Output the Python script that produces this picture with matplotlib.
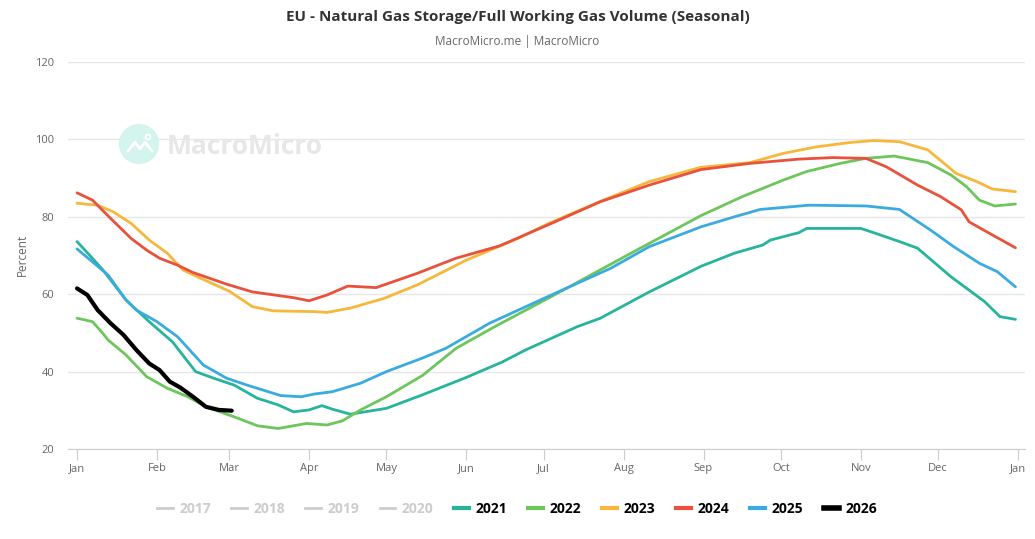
import matplotlib
matplotlib.use("Agg")
import matplotlib.pyplot as plt
from matplotlib.lines import Line2D
from matplotlib.patches import Ellipse

plt.rcParams['font.family'] = ['Open Sans', 'DejaVu Sans']

# day of year -> percent
days_2021 = [0, 5, 10, 19, 28, 37, 46, 53, 61, 70, 78, 84, 90, 95, 99, 106, 120, 134, 151, 165, 174,
             194, 203, 222, 242, 255, 266, 269, 280, 283, 304, 309, 319, 326, 339, 352, 358, 364]
vals_2021 = [73.6, 70.0, 66.3, 58.5, 52.9, 47.7, 40.0, 38.3, 36.5, 33.1, 31.4, 29.6, 30.1, 31.2, 30.3,
             29.0, 30.5, 34.0, 38.5, 42.5, 45.6, 51.6, 53.8, 60.6, 67.2, 70.6, 72.7, 74.0, 75.9, 77.0,
             77.0, 75.9, 73.6, 71.9, 64.5, 58.1, 54.2, 53.5]

days_2022 = [0, 6, 10, 12, 19, 27, 35, 43, 50, 61, 70, 78, 89, 97, 103, 110, 120, 134, 147, 162, 184,
             203, 216, 242, 258, 274, 283, 296, 306, 317, 330, 339, 345, 350, 356, 364]
vals_2022 = [53.8, 52.9, 49.9, 48.2, 44.3, 38.7, 35.7, 33.5, 30.9, 28.3, 26.0, 25.3, 26.6, 26.2, 27.3,
             30.1, 33.5, 39.0, 46.0, 51.6, 59.4, 66.3, 71.0, 80.3, 85.2, 89.5, 91.7, 93.8, 95.1, 95.7,
             94.0, 90.8, 87.8, 84.3, 82.8, 83.3]

days_2023 = [0, 8, 14, 21, 28, 35, 41, 48, 59, 68, 76, 92, 97, 106, 119, 132, 151, 171, 183, 203, 222,
             242, 261, 274, 287, 300, 309, 319, 330, 341, 349, 355, 364]
vals_2023 = [83.5, 83.0, 81.3, 78.3, 74.0, 70.6, 66.3, 64.1, 60.8, 56.8, 55.7, 55.5, 55.3, 56.4, 58.9,
             62.4, 68.8, 74.4, 78.3, 84.0, 89.1, 92.8, 94.0, 96.4, 98.1, 99.2, 99.7, 99.4, 97.3, 91.2,
             89.1, 87.2, 86.5]

days_2024 = [0, 6, 13, 21, 27, 32, 39, 45, 58, 68, 84, 90, 97, 105, 116, 132, 147, 164, 184, 203, 222,
             242, 261, 280, 293, 306, 314, 326, 335, 343, 346, 354, 364]
vals_2024 = [86.2, 84.3, 79.6, 74.4, 71.4, 69.3, 67.5, 65.6, 62.6, 60.6, 59.1, 58.3, 59.8, 62.1, 61.7,
             65.4, 69.3, 72.5, 78.3, 83.9, 88.2, 92.2, 93.8, 94.9, 95.3, 95.1, 92.9, 88.2, 85.2, 81.8,
             78.7, 75.7, 72.0]

days_2025 = [0, 12, 19, 23, 31, 39, 49, 58, 66, 79, 87, 92, 99, 110, 120, 134, 143, 160, 184, 207, 222,
             242, 255, 265, 284, 306, 319, 331, 340, 350, 357, 364]
vals_2025 = [71.7, 65.0, 58.5, 55.9, 52.9, 49.0, 41.7, 38.3, 36.5, 33.8, 33.5, 34.2, 34.8, 37.0, 40.0,
             43.5, 46.0, 52.5, 59.8, 66.7, 72.3, 77.4, 80.0, 81.9, 83.0, 82.8, 81.9, 76.6, 72.3, 68.0,
             65.8, 61.9]

days_2026 = [0, 4, 8, 13, 18, 23, 28, 32, 36, 40, 45, 50, 55, 60]
vals_2026 = [61.5, 59.8, 55.9, 52.5, 49.5, 45.6, 42.1, 40.4, 37.4, 35.9, 33.5, 30.9, 30.1, 29.9]

hidden_years = ['2017', '2018', '2019', '2020']
month_days = [0, 31, 59, 90, 120, 151, 181, 212, 243, 273, 304, 334, 365]
month_labels = ['Jan', 'Feb', 'Mar', 'Apr', 'May', 'Jun', 'Jul', 'Aug', 'Sep', 'Oct', 'Nov', 'Dec', 'Jan']
y_ticks = [20, 40, 60, 80, 100, 120]

series = [
    ('2021', days_2021, vals_2021, '#26b49c', 2.0),
    ('2022', days_2022, vals_2022, '#6cc65c', 2.0),
    ('2023', days_2023, vals_2023, '#f7b73c', 2.0),
    ('2024', days_2024, vals_2024, '#e8523c', 2.0),
    ('2025', days_2025, vals_2025, '#3aabdf', 2.0),
    ('2026', days_2026, vals_2026, '#000000', 3.0),
]

W, H = 1035, 539
fig = plt.figure(figsize=(W / 100, H / 100), dpi=100)
ax = fig.add_axes([68 / W, 1 - 449 / H, (1025 - 68) / W, (449 - 62) / H])

for name, d, v, c, lw in series:
    ax.plot(d, v, color=c, lw=lw, solid_capstyle='round', zorder=3)

ax.set_xlim(-3.5, 367.7)
ax.set_ylim(20, 120)
ax.set_xticks(month_days)
ax.set_xticklabels(month_labels)
ax.set_yticks(y_ticks)
ax.grid(axis='y', color='#e6e6e6', lw=1)
ax.set_axisbelow(True)
for s in ['top', 'right', 'left']:
    ax.spines[s].set_visible(False)
ax.spines['bottom'].set_color('#cccccc')
ax.tick_params(axis='x', colors='#cccccc', labelcolor='#666666', length=8, labelsize=8, pad=2)
ax.tick_params(axis='y', length=0, labelcolor='#666666', labelsize=8, pad=10)
fig.text(22 / W, 1 - 255 / H, 'Percent', rotation=90, ha='center', va='center',
         color='#666666', fontsize=8.5)

fig.text(0.5, 1 - 17 / H, 'EU - Natural Gas Storage/Full Working Gas Volume (Seasonal)',
         ha='center', va='center', fontsize=11, fontweight='bold', color='#333333')
fig.text(0.5, 1 - 41 / H, 'MacroMicro.me | MacroMicro', ha='center', va='center',
         fontsize=8.5, color='#666666')

# watermark
fig.patches.append(Ellipse((139 / W, 1 - 144 / H), 39 / W, 39 / H, transform=fig.transFigure,
                           color='#d3f5ee', zorder=0))
fig.add_artist(Line2D([128 / W, 135 / W, 140 / W, 145 / W, 152 / W],
                      [1 - 151 / H, 1 - 142 / H, 1 - 149 / H, 1 - 142 / H, 1 - 151 / H],
                      transform=fig.transFigure, color='white', lw=2.0))
fig.patches.append(Ellipse((148 / W, 1 - 137 / H), 5 / W, 5 / H, transform=fig.transFigure,
                           facecolor='none', edgecolor='white', lw=1.3))
fig.text(167 / W, 1 - 146 / H, 'MacroMicro', ha='left', va='center', fontsize=19,
         fontweight='bold', color='#e5e7e9', zorder=0)

handles = [Line2D([], [], color='#cccccc', lw=2) for _ in hidden_years]
labels = list(hidden_years)
for name, d, v, c, lw in series:
    handles.append(Line2D([], [], color=c, lw=lw + 1))
    labels.append(name)
leg = fig.legend(handles, labels, loc='center', bbox_to_anchor=(0.5, 1 - 509 / H), ncol=10,
                 frameon=False, handlelength=1.1, handletextpad=0.5, columnspacing=1.45,
                 prop={'size': 10, 'weight': 'bold'})
for i, t in enumerate(leg.get_texts()):
    t.set_color('#cccccc' if i < 4 else '#000000')

fig.savefig('out.png', dpi=100)
